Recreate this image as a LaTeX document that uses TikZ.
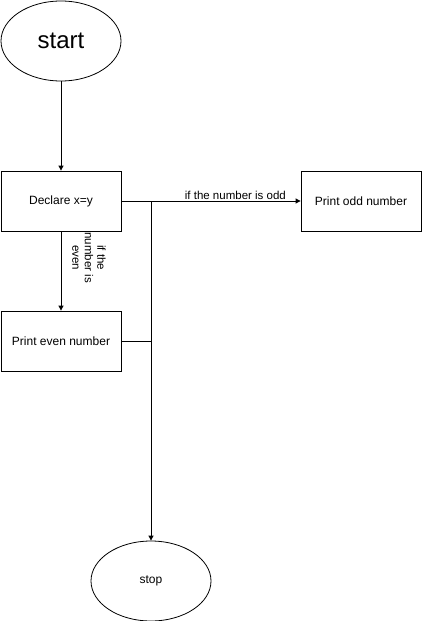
\documentclass[tikz,border=0pt]{standalone}
\usepackage{fontspec}
\setmainfont{Liberation Sans}
\usetikzlibrary{shapes.geometric,arrows.meta}
\begin{document}
\begin{tikzpicture}[x=1pt,y=-1pt,
  proc/.style={draw,line width=0.8pt,minimum width=120pt,minimum height=60pt,inner sep=0pt,font=\fontsize{12}{14}\selectfont},
  oval/.style={draw,ellipse,line width=0.8pt,minimum width=120pt,minimum height=80pt,inner sep=0pt},
  conn/.style={line width=0.8pt,-{Triangle[length=5pt,width=5pt]}},
  lbl/.style={font=\fontsize{11.5}{12.5}\selectfont,inner sep=0pt}]
\useasboundingbox (0,0) rectangle (421,621);
\node[oval,font=\fontsize{24}{28}\selectfont] (start) at (61,41) {start};
\node[proc] (decl) at (61,201) {Declare x=y};
\node[proc] (odd) at (361,201) {Print odd number};
\node[proc] (even) at (61,341) {Print even number};
\node[oval,font=\fontsize{12}{14}\selectfont] (stop) at (151,581) {stop};
\coordinate (j1) at (151,201);
\coordinate (j2) at (151,341);
\draw[conn] (start) -- (decl);
\draw[conn] (decl) -- (even) node[lbl,pos=0.33,xshift=28pt,rotate=-90,align=center] {if the\\number is\\even};
\draw[conn] (decl) -- (odd) node[lbl,pos=0.636,anchor=south,yshift=0.5pt] {if the number is odd};
\draw[conn] (j1) -- (stop);
\draw[line width=0.8pt] (even.east) -- (j2);
\end{tikzpicture}
\end{document}
